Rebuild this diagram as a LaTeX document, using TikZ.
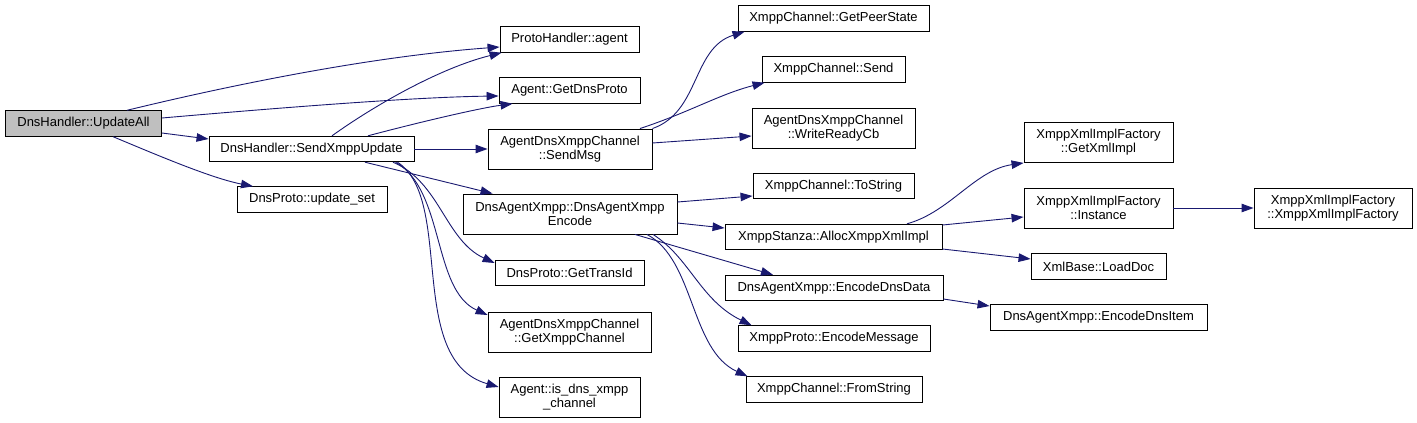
\documentclass[tikz,border=0pt]{standalone}
\usepackage{fontspec}
\newfontfamily\graphfont{Liberation Sans}
\usetikzlibrary{arrows.meta}
\definecolor{callblue}{HTML}{191970}
\definecolor{rootgray}{HTML}{BFBFBF}
\begin{document}
\begin{tikzpicture}[x=1pt, y=-1pt,
    func/.style={draw=black, line width=0.9pt, fill=white, inner sep=0pt,
        minimum height=25.5pt, align=center,
        font={\graphfont\fontsize{13}{14}\selectfont}},
    func2/.style={func, minimum height=40pt},
    call/.style={draw=callblue, line width=0.9pt,
        -{Triangle[length=12pt, width=8.5pt]}}]

    \useasboundingbox (0,0) rectangle (1417,423);

    % --------------------------
    % 第一、二列
    % --------------------------
    \node[func, fill=rootgray, minimum width=156pt] (ua) at (83.5,123.5) {DnsHandler::UpdateAll};
    \node[func, minimum width=205pt] (sxu) at (311.5,149) {DnsHandler::SendXmppUpdate};
    \node[func, minimum width=150pt] (us) at (312,199.5) {DnsProto::update\_set};

    % --------------------------
    % 第三列
    % --------------------------
    \node[func, minimum width=139pt] (agent) at (569.5,39.5) {ProtoHandler::agent};
    \node[func, minimum width=141pt] (dnsproto) at (569.5,90.5) {Agent::GetDnsProto};
    \node[func2, minimum width=164pt] (sendmsg) at (570,149) {AgentDnsXmppChannel\\::SendMsg};
    \node[func2, minimum width=214pt] (encode) at (570,214) {DnsAgentXmpp::DnsAgentXmpp\\Encode};
    \node[func, minimum width=149pt] (transid) at (569.5,273) {DnsProto::GetTransId};
    \node[func2, minimum width=163pt] (xmppch) at (569.5,332) {AgentDnsXmppChannel\\::GetXmppChannel};
    \node[func2, minimum width=141pt] (isdns) at (569.5,397) {Agent::is\_dns\_xmpp\\\_channel};

    % --------------------------
    % 第四列
    % --------------------------
    \node[func, minimum width=191pt] (peerstate) at (833.5,18.5) {XmppChannel::GetPeerState};
    \node[func, minimum width=143pt] (send) at (833.5,69.5) {XmppChannel::Send};
    \node[func2, minimum width=163pt] (writeready) at (833.5,128) {AgentDnsXmppChannel\\::WriteReadyCb};
    \node[func, minimum width=161pt] (tostring) at (833.5,186) {XmppChannel::ToString};
    \node[func, minimum width=217pt] (alloc) at (833.5,237) {XmppStanza::AllocXmppXmlImpl};
    \node[func, minimum width=218pt] (dnsdata) at (834,288) {DnsAgentXmpp::EncodeDnsData};
    \node[func, minimum width=192pt] (encmsg) at (834,338.5) {XmppProto::EncodeMessage};
    \node[func, minimum width=176pt] (fromstr) at (834,389.5) {XmppChannel::FromString};

    % --------------------------
    % 第五、六列
    % --------------------------
    \node[func2, minimum width=149pt] (getxml) at (1098.5,142.5) {XmppXmlImplFactory\\::GetXmlImpl};
    \node[func2, minimum width=149pt] (instance) at (1098.5,208) {XmppXmlImplFactory\\::Instance};
    \node[func, minimum width=135pt] (loaddoc) at (1098.5,266.5) {XmlBase::LoadDoc};
    \node[func, minimum width=217pt] (dnsitem) at (1098.5,317.5) {DnsAgentXmpp::EncodeDnsItem};
    \node[func2, minimum width=158pt] (factory) at (1333,208) {XmppXmlImplFactory\\::XmppXmlImplFactory};

    % 调用关系
    \draw[call] ([xshift=43.5pt]ua.north) .. controls (190,95) and (350,58) .. ([yshift=-7.5pt]agent.west);
    \draw[call] ([yshift=5.5pt]ua.east) .. controls (300,106) and (420,97) .. ([yshift=-5.5pt]dnsproto.west);
    \draw[call] ([yshift=-9.5pt]ua.east) -- ([yshift=10pt]sxu.west);
    \draw[call] ([xshift=29.5pt]ua.south) .. controls (150,152) and (210,178) .. ([xshift=-59pt]us.north);

    \draw[call] ([xshift=20.5pt]sxu.north) .. controls (375,105) and (440,68) .. ([xshift=2pt]agent.south west);
    \draw[call] ([xshift=56.5pt]sxu.north) .. controls (420,122) and (480,108) .. ([xshift=14pt]dnsproto.south west);
    \draw[call] (sxu.east) -- (sendmsg.west);
    \draw[call] ([xshift=53.5pt]sxu.south) -- ([xshift=30pt]encode.north west);
    \draw[call] ([xshift=81.5pt]sxu.south) .. controls (440,182) and (445,240) .. ([yshift=10pt]transid.west);
    \draw[call] ([xshift=84pt]sxu.south) .. controls (445,190) and (432,290) .. ([yshift=17pt]xmppch.west);
    \draw[call] ([xshift=86pt]sxu.south) .. controls (455,200) and (405,360) .. ([yshift=10pt]isdns.west);

    \draw[call] (sendmsg.north east) .. controls (700,112) and (692,48) .. ([xshift=7pt]peerstate.south west);
    \draw[call] ([xshift=70pt]sendmsg.north) .. controls (690,112) and (720,94) .. ([xshift=3pt]send.south west);
    \draw[call] ([yshift=6pt]sendmsg.east) -- ([yshift=-8pt]writeready.west);

    \draw[call] ([yshift=12pt]encode.east) -- ([yshift=-10pt]tostring.west);
    \draw[call] ([yshift=-9pt]encode.east) -- ([yshift=9pt]alloc.west);
    \draw[call] ([xshift=65pt]encode.south) -- ([xshift=-61pt]dnsdata.north);
    \draw[call] ([xshift=83pt]encode.south) .. controls (690,258) and (700,300) .. ([xshift=14pt]encmsg.north west);
    \draw[call] ([xshift=77pt]encode.south) .. controls (695,260) and (690,350) .. ([xshift=2pt]fromstr.north west);

    \draw[call] ([xshift=73.5pt]alloc.north) .. controls (950,212) and (975,170) .. (getxml.south west);
    \draw[call] ([yshift=12pt]alloc.east) -- ([yshift=-9pt]instance.west);
    \draw[call] ([yshift=-12pt]alloc.east) -- ([yshift=7.5pt]loaddoc.west);
    \draw[call] (instance.east) -- (factory.west);
    \draw[call] ([yshift=-11pt]dnsdata.east) -- ([yshift=11.5pt]dnsitem.west);

\end{tikzpicture}
\end{document}
